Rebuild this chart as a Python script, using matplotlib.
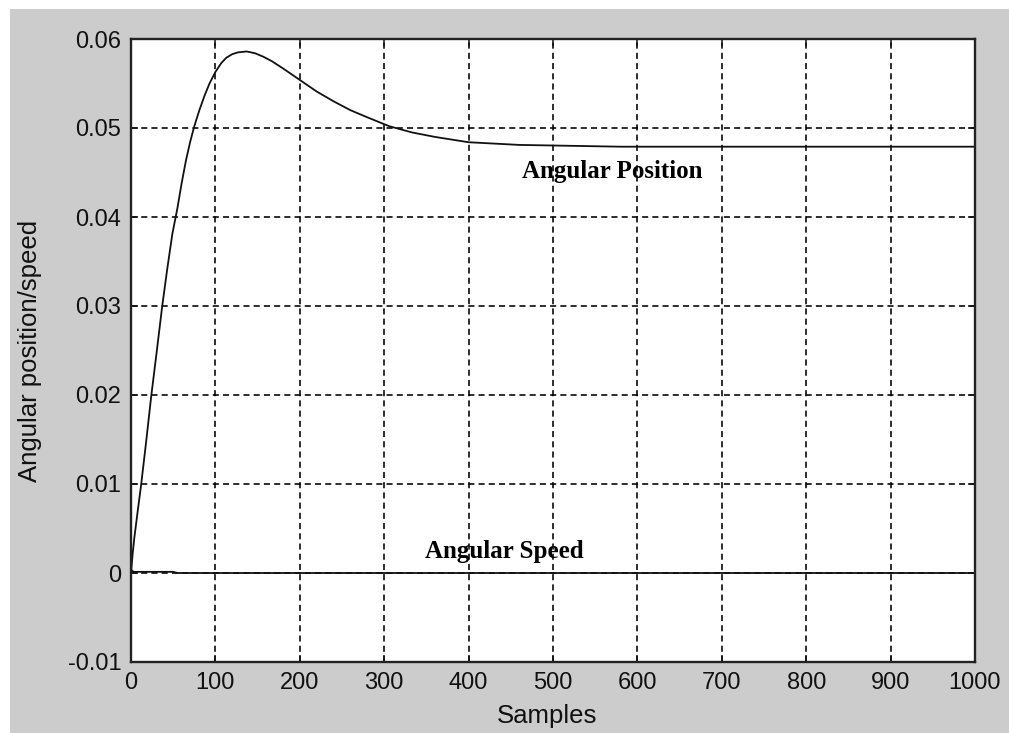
import matplotlib
matplotlib.use("Agg")
import matplotlib.pyplot as plt
from matplotlib.patches import Rectangle

# ---- data ----
pos_x = [0, 2, 4, 8, 12, 18, 24, 30, 37, 43, 49, 55, 60, 65, 70, 75, 81, 87, 93,
         100, 107, 113, 120, 127, 137, 147, 157, 167, 180, 200, 220, 240, 260,
         280, 306, 333, 360, 400, 460, 520, 580, 1000]
pos_v = [0, 0.0022, 0.0040, 0.0070, 0.0099, 0.0148, 0.0199, 0.0245, 0.0300,
         0.0342, 0.0381, 0.0410, 0.0438, 0.0463, 0.0484, 0.0502, 0.0520, 0.0536,
         0.0550, 0.0563, 0.0573, 0.0579, 0.0583, 0.0585, 0.0586, 0.0584, 0.0580,
         0.0575, 0.0567, 0.0554, 0.0541, 0.0530, 0.0520, 0.0512, 0.0502, 0.0495,
         0.0490, 0.0484, 0.0481, 0.0480, 0.0479, 0.0479]

speed_x = [0, 1, 3, 50, 55, 1000]
speed_v = [0, 0.0003, 0.00013, 0.00013, 0, 0]

xticks = [0, 100, 200, 300, 400, 500, 600, 700, 800, 900, 1000]
xtick_labels = ["0", "100", "200", "300", "400", "500", "600", "700", "800", "900", "1000"]
yticks = [-0.01, 0, 0.01, 0.02, 0.03, 0.04, 0.05, 0.06]
ytick_labels = ["-0.01", "0", "0.01", "0.02", "0.03", "0.04", "0.05", "0.06"]

label_pos = "Angular Position"
label_speed = "Angular Speed"
xlabel = "Samples"
ylabel = "Angular position/speed"

# ---- figure ----
W, H = 1009, 733
fig = plt.figure(figsize=(W / 100, H / 100), dpi=100, facecolor="white")
bg = Rectangle((10 / W, 0), 1 - 10 / W, 1 - 9 / H,
               transform=fig.transFigure, facecolor="#cccccc",
               edgecolor="none", zorder=-10)
fig.patches.append(bg)

L, R, T, B = 131, 975, 39, 662
ax = fig.add_axes([L / W, 1 - B / H, (R - L) / W, (B - T) / H])
ax.set_zorder(5)
ax.set_facecolor("white")

ax.plot(pos_x, pos_v, color="#111111", lw=1.3, zorder=3)
ax.plot(speed_x, speed_v, color="#111111", lw=1.3, zorder=3)

ax.set_xlim(0, 1000)
ax.set_ylim(-0.01, 0.06)
ax.set_xticks(xticks)
ax.set_xticklabels(xtick_labels)
ax.set_yticks(yticks)
ax.set_yticklabels(ytick_labels)

ax.grid(True, color="black", linestyle=(0, (3.8, 2.6)), linewidth=1.15, zorder=1)
ax.tick_params(direction="in", length=5, width=1.1, top=True, right=True,
               labelsize=17, pad=7, colors="#111111")
for s in ax.spines.values():
    s.set_linewidth(1.7)
    s.set_color("#222222")
    s.set_zorder(4)

for lab in ax.get_xticklabels() + ax.get_yticklabels():
    lab.set_family("Liberation Sans")

ax.set_xlabel(xlabel, fontsize=18.5, family="Liberation Sans", color="#111111")
ax.set_ylabel(ylabel, fontsize=18.5, family="Liberation Sans", color="#111111")
ax.xaxis.set_label_coords((547 - L) / (R - L), -(704 - B) / (B - T))
ax.yaxis.set_label_coords(-(L - 42) / (R - L), 0.5)

ax.text(463, 0.0451, label_pos, fontsize=18, fontweight="bold",
        family="Liberation Serif", va="center", ha="left", zorder=5)
ax.text(348, 0.0024, label_speed, fontsize=18, fontweight="bold",
        family="Liberation Serif", va="center", ha="left", zorder=5)

fig.savefig("out.png", dpi=100, facecolor=fig.get_facecolor())
